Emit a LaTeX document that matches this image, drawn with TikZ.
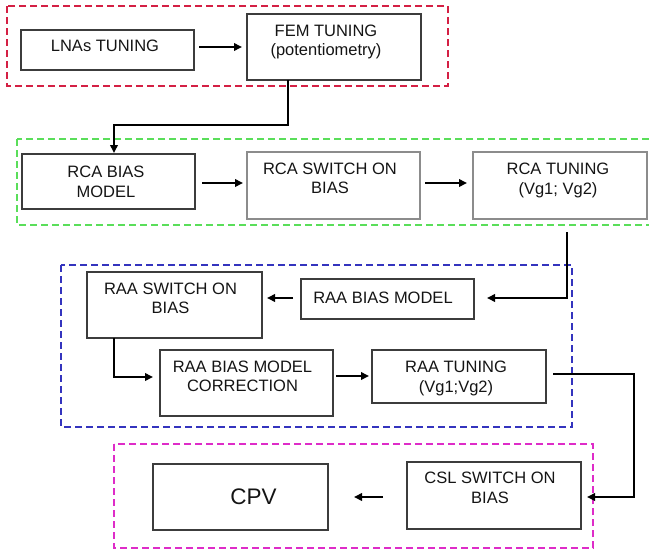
\documentclass[tikz,border=0pt]{standalone}
\usepackage{fontspec}
\setmainfont{Liberation Sans}
\usetikzlibrary{arrows.meta}
\definecolor{fred}{RGB}{212,32,68}
\definecolor{fgreen}{RGB}{90,222,90}
\definecolor{fblue}{RGB}{52,52,190}
\definecolor{fmag}{RGB}{222,44,200}
\definecolor{boxgray}{RGB}{60,60,60}
\definecolor{boxlight}{RGB}{140,140,140}
\definecolor{textc}{RGB}{20,20,20}
\begin{document}
\begin{tikzpicture}[x=1pt,y=-1pt,
  box/.style={draw=boxgray, line width=1.3pt, inner sep=0pt, outer sep=0pt},
  lbox/.style={box, draw=boxlight},
  txt/.style={align=center, font=\fontsize{16.5}{19.5}\selectfont, text=textc, inner sep=0pt},
  frame/.style={line width=2pt, dash pattern=on 7pt off 4pt},
  arr/.style={line width=1.9pt, draw=black, -{Triangle[length=8pt,width=7.5pt]}}]
\useasboundingbox (0,0) rectangle (649,557);
\clip (0,0) rectangle (649,557);
% frames
\draw[frame, draw=fred] (7,6) rectangle (448,86);
\draw[frame, draw=fgreen] (17,139) rectangle (665,225);
\draw[frame, draw=fblue] (61,265) rectangle (572,427);
\draw[frame, draw=fmag] (114,444) rectangle (593,548);
% boxes
\node[box, minimum width=173pt, minimum height=40pt] (lna) at (107.5,50) {};
\node[box, minimum width=174pt, minimum height=66pt] (fem) at (334,47) {};
\node[box, minimum width=173pt, minimum height=55pt] (rcab) at (108.5,181.5) {};
\node[lbox, minimum width=173pt, minimum height=67pt] (rcas) at (333.5,185.5) {};
\node[lbox, minimum width=174pt, minimum height=67pt] (rcat) at (560,185.5) {};
\node[box, minimum width=173pt, minimum height=40pt] (raab) at (387.5,299) {};
\node[box, minimum width=175pt, minimum height=66pt] (raas) at (174.5,305) {};
\node[box, minimum width=173pt, minimum height=66pt] (raac) at (246.5,383) {};
\node[box, minimum width=174pt, minimum height=53pt] (raat) at (459,376.5) {};
\node[box, minimum width=175pt, minimum height=66pt] (cpv) at (240.5,497) {};
\node[box, minimum width=174pt, minimum height=67pt] (csl) at (494,495.5) {};
% texts
\node[txt] (lna-t) at (105,45.5) {LNAs TUNING};
\node[txt] (fem-t) at (326,42) {FEM TUNING\\(potentiometry)};
\node[txt] (rcab-t) at (106,182) {RCA BIAS\\MODEL};
\node[txt] (rcas-t) at (330,178.5) {RCA SWITCH ON\\BIAS};
\node[txt] (rcat-t) at (558,180.5) {RCA TUNING\\(Vg1; Vg2)};
\node[txt] (raab-t) at (383,297.5) {RAA BIAS MODEL};
\node[txt] (raas-t) at (170.5,298.5) {RAA SWITCH ON\\BIAS};
\node[txt] (raac-t) at (242.5,376.5) {RAA BIAS MODEL\\CORRECTION};
\node[txt] (raat-t) at (456,378.5) {RAA TUNING\\(Vg1;Vg2)};
\node[txt, font=\fontsize{22.5}{26}\selectfont] (cpv-t) at (253.5,497) {CPV};
\node[txt] (csl-t) at (490,488) {CSL SWITCH ON\\BIAS};
% helper coordinates
\coordinate (k1) at (288,125);
\coordinate (k2) at (114,125);
\coordinate (k3) at (567,298);
\coordinate (k4) at (114,377);
\coordinate (k5) at (634,374);
\coordinate (k6) at (634,497);
% short arrows
\draw[arr, shorten <=5pt, shorten >=5pt] (lna.east |- fem.west) -- (fem.west);
\draw[arr, shorten <=7pt, shorten >=4pt] ([yshift=-1.5pt]rcab.east) -- ([yshift=-1.5pt]rcab.east -| rcas.west);
\draw[arr, shorten <=5pt, shorten >=6pt] ([yshift=2.5pt]rcas.east) -- ([yshift=2.5pt]rcat.west);
\draw[arr, shorten <=8pt, shorten >=5pt] ([yshift=1pt]raab.west) -- ([yshift=1pt]raab.west -| raas.east);
\draw[arr, shorten <=3pt, shorten >=3pt] ([yshift=0.5pt]raat.west -| raac.east) -- ([yshift=0.5pt]raat.west);
\draw[arr, shorten <=24pt, shorten >=26pt] ([yshift=-1.5pt]csl.west) -- ([yshift=-1.5pt]csl.west -| cpv.east);
% connectors
\draw[arr, shorten >=1pt] (k1 |- fem.south) -- (k1) -- (k2) -- (k2 |- rcab.north);
\draw[arr, shorten <=13pt, shorten >=13pt] (k3 |- rcat.south) -- (k3) -- (k3 -| raab.east);
\draw[arr, shorten >=7pt] (k4 |- raas.south) -- (k4) -- (k4 -| raac.west);
\draw[arr, shorten <=7pt, shorten >=6pt] (k5 -| raat.east) -- (k5) -- (k6) -- (k6 -| csl.east);
\end{tikzpicture}
\end{document}
